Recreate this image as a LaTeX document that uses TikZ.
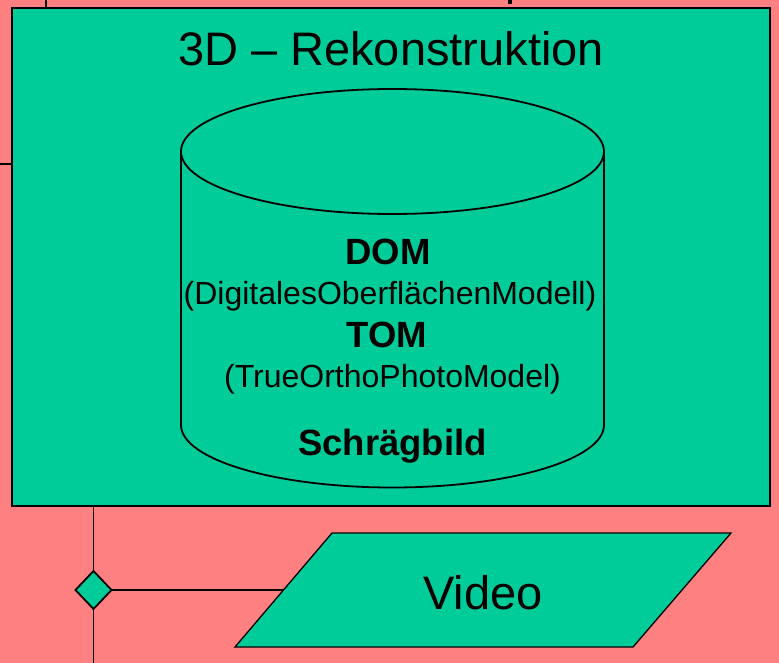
\documentclass[tikz,border=0pt]{standalone}
\usepackage{fontspec}
\setmainfont{Liberation Sans}
\usetikzlibrary{shapes.geometric}
\definecolor{salmon}{HTML}{FF8080}
\definecolor{mint}{HTML}{00CC99}

\begin{document}
\begin{tikzpicture}[x=1pt,y=-1pt,
	box/.style={draw, fill=mint, line width=1.8pt, inner sep=0pt, outer sep=0pt},
	link/.style={line width=1.8pt},
	big/.style={font=\fontsize{47}{56}\selectfont},
	bold/.style={font=\fontsize{36.5}{43}\selectfont\bfseries},
	small/.style={font=\fontsize{32}{38}\selectfont}]
	\fill [salmon] (0,0) rectangle (779,663);
	\useasboundingbox (0,0) rectangle (779,663);
	% stubs above and left of the box
	\coordinate (t1) at (46,0);
	\coordinate (t2) at (510,0);
	\coordinate (l1) at (0,164);
	\node [box, minimum width=758pt, minimum height=498pt] (rek) at (391,257) {};
	\draw [link] (t1) -- (t1 |- rek.north);
	\draw [line width=3.5pt] (t2) -- ++(0,4);
	\draw [link] (l1) -- (l1 -| rek.west);
	\node [big, anchor=base] (title) at (391,66) {3D – Rekonstruktion};
	% cylinder
	\draw [box] (181,151.5) -- (181,425) arc [start angle=180, end angle=0, x radius=211.5, y radius=62.5] -- (604,151.5);
	\draw [link] (392.5,151.5) ellipse [x radius=211.5, y radius=62.5];
	\node [bold, anchor=base] (dom) at (388,265) {DOM};
	\node [small, anchor=base] (domtxt) at (390,304) {(DigitalesOberflächenModell)};
	\node [bold, anchor=base] (tom) at (387,347) {TOM};
	\node [small, anchor=base] (tomtxt) at (392.5,387) {(TrueOrthoPhotoModel)};
	\node [bold, anchor=base] (schraeg) at (392.5,455) {Schrägbild};
	% branch below
	\node [box, diamond, minimum width=36pt, minimum height=38pt] (dia) at (93.5,590) {};
	\coordinate (b1) at (93.5,663);
	\draw [link] (dia.north) -- (dia.north |- rek.south);
	\draw [link] (dia.south) -- (b1);
	\coordinate (vidl) at (283.5,590);
	\draw [box, line width=1.3pt] (332,533) -- (731,533) -- (633,647) -- (235,647) -- cycle;
	\draw [link] (dia.east) -- (vidl);
	\node [big, anchor=base] (vid) at (483,609) {Video};
\end{tikzpicture}
\end{document}
